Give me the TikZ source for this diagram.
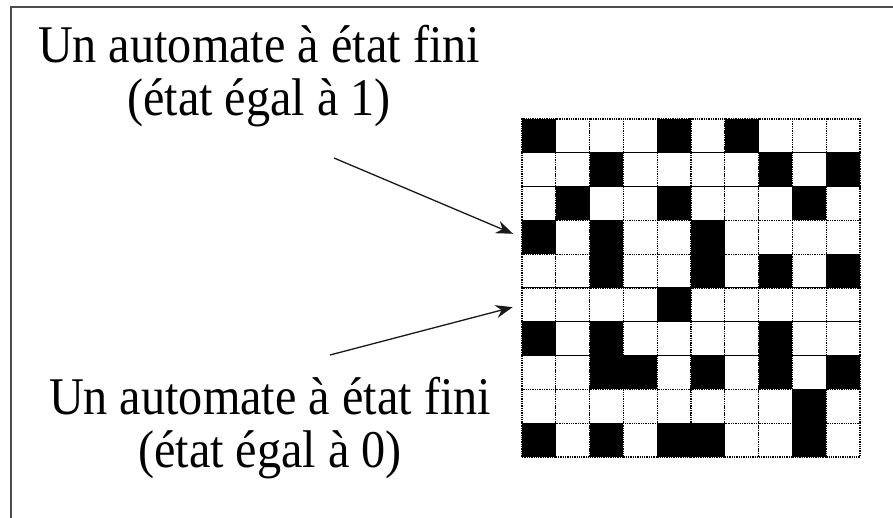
\documentclass[tikz,border=0pt]{standalone}
\usepackage{fontspec}
\setmainfont{Liberation Serif}[FakeStretch=0.91]
\usepackage{tikz}
\usetikzlibrary{calc}
\usetikzlibrary{arrows.meta}
\tikzset{>=latex}
\tikzset{cell/.style={draw,densely dotted,line width=1.3pt,minimum size=33.8pt,inner sep=0pt}}
\tikzset{etat0/.style={fill=white},etat1/.style={fill=black}}
\tikzset{legende/.style={align=center,inner sep=0pt,font=\fontsize{53}{53}\selectfont}}
\tikzset{fleche/.style={draw=black!90,line width=1.3pt,-{Stealth[length=17pt,width=13pt]},shorten >=9pt}}

\begin{document}
\begin{tikzpicture}[x=1pt,y=-1pt]
                    \useasboundingbox (0,0) rectangle (893,518);
                    \draw[black!70, line width=1.3pt] (11,518) -- (11,7) -- (893,7);

                    % grille des automates
                    \foreach \ligne [count=\r from 0] in {
                        {1,0,0,0,1,0,1,0,0,0},
                        {0,0,1,0,0,0,0,1,0,1},
                        {0,1,0,0,1,0,0,0,1,0},
                        {1,0,1,0,0,1,0,0,0,0},
                        {0,0,1,0,0,1,0,1,0,1},
                        {0,0,0,0,1,0,0,0,0,0},
                        {1,0,1,0,0,0,0,1,0,0},
                        {0,0,1,1,0,1,0,1,0,1},
                        {0,0,0,0,0,0,0,0,1,0},
                        {1,0,1,0,1,1,0,0,1,0}}
                        \foreach \v [count=\c from 0] in \ligne
                            \node[cell, etat\v] (c-\r-\c) at (538.9+33.8*\c, 135.9+33.8*\r) {};

                    \node[legende] (haut) at (259,76) {Un automate à état fini\\(état égal à 1)};
                    \node[legende] (bas) at (270,428) {Un automate à état fini\\(état égal à 0)};

                    \coordinate (d1) at (334,158);
                    \coordinate (d0) at (330,355);
                    \draw[fleche] (d1) -- (c-3-0.west);
                    \draw[fleche] (d0) -- (c-5-0.west);
                \end{tikzpicture}
\end{document}
